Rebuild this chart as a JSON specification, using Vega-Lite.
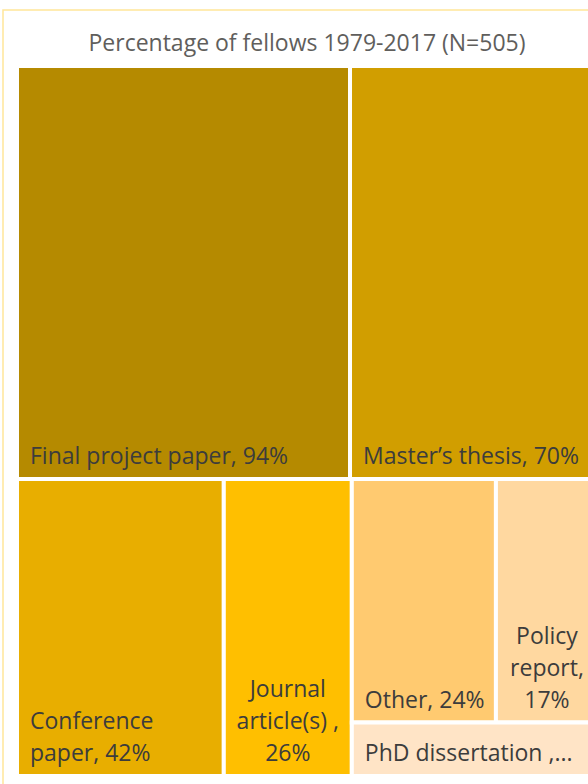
{
  "$schema": "https://vega.github.io/schema/vega-lite/v6.json",
  "autosize": "none",
  "width": 608,
  "height": 780,
  "padding": {"left": 3, "top": 10, "right": 0, "bottom": 0},
  "background": "white",
  "config": {"view": {"stroke": "#FFE699", "strokeWidth": 1.5}},
  "title": {"text": "Percentage of fellows 1979-2017 (N=505)", "anchor": "middle", "frame": "group", "offset": -64, "baseline": "alphabetic", "fontSize": 23, "font": "Open Sans", "fontWeight": "normal", "color": "#605E5C"},
  "data": {"values": [
    {"name": "Final project paper", "value": 94, "band": 1, "col": 1, "sub": 1, "k": 1, "label": "Final project paper, 94%"},
    {"name": "Master’s thesis", "value": 70, "band": 1, "col": 2, "sub": 1, "k": 1, "label": "Master’s thesis, 70%"},
    {"name": "Conference paper", "value": 42, "band": 2, "col": 1, "sub": 1, "k": 1, "label": "Conference\npaper, 42%"},
    {"name": "Journal article(s)", "value": 26, "band": 2, "col": 2, "sub": 1, "k": 1, "label": "Journal\narticle(s) ,\n26%"},
    {"name": "Other", "value": 24, "band": 2, "col": 3, "sub": 1, "k": 1, "label": "Other, 24%"},
    {"name": "Policy report", "value": 17, "band": 2, "col": 3, "sub": 1, "k": 2, "label": "Policy\nreport,\n17%"},
    {"name": "PhD dissertation", "value": 9, "band": 2, "col": 3, "sub": 2, "k": 1, "label": "PhD dissertation ,..."}
  ]},
  "transform": [
    {"joinaggregate": [{"op": "sum", "field": "value", "as": "total"}]},
    {"joinaggregate": [{"op": "sum", "field": "value", "as": "bandTot"}], "groupby": ["band"]},
    {"window": [{"op": "sum", "field": "value", "as": "bandCum"}], "sort": [{"field": "band"}], "frame": [null, 0], "ignorePeers": false},
    {"joinaggregate": [{"op": "sum", "field": "value", "as": "colTot"}], "groupby": ["band", "col"]},
    {"window": [{"op": "sum", "field": "value", "as": "colCum"}], "groupby": ["band"], "sort": [{"field": "col"}], "frame": [null, 0], "ignorePeers": false},
    {"joinaggregate": [{"op": "sum", "field": "value", "as": "subTot"}], "groupby": ["band", "col", "sub"]},
    {"window": [{"op": "sum", "field": "value", "as": "subCum"}], "groupby": ["band", "col"], "sort": [{"field": "sub"}], "frame": [null, 0], "ignorePeers": false},
    {"window": [{"op": "sum", "field": "value", "as": "itemCum"}], "groupby": ["band", "col", "sub"], "sort": [{"field": "k"}], "frame": [null, 0], "ignorePeers": false},
    {"calculate": "100*(datum.bandCum-datum.bandTot)/datum.total", "as": "by0"},
    {"calculate": "100*datum.bandCum/datum.total", "as": "by1"},
    {"calculate": "100*(datum.colCum-datum.colTot)/datum.bandTot", "as": "cx0"},
    {"calculate": "100*datum.colCum/datum.bandTot", "as": "cx1"},
    {"calculate": "datum.by0+(datum.by1-datum.by0)*(datum.subCum-datum.subTot)/datum.colTot", "as": "y0"},
    {"calculate": "datum.by0+(datum.by1-datum.by0)*datum.subCum/datum.colTot", "as": "y1"},
    {"calculate": "datum.cx0+(datum.cx1-datum.cx0)*(datum.itemCum-datum.value)/datum.subTot", "as": "x0"},
    {"calculate": "datum.cx0+(datum.cx1-datum.cx0)*datum.itemCum/datum.subTot", "as": "x1"},
    {"calculate": "(datum.x0+datum.x1)/2", "as": "xm"}
  ],
  "layer": [
    {
      "mark": {"type": "rect", "stroke": "white", "strokeWidth": 4},
      "encoding": {
        "x": {"field": "x0", "type": "quantitative", "axis": null, "scale": {"domain": [0, 100], "range": [14, 595], "nice": false, "zero": false}},
        "x2": {"field": "x1"},
        "y": {"field": "y0", "type": "quantitative", "axis": null, "scale": {"domain": [0, 100], "range": [56, 766], "nice": false, "zero": false}},
        "y2": {"field": "y1"},
        "color": {"field": "name", "type": "nominal", "legend": null, "scale": {
          "domain": ["Final project paper", "Master’s thesis", "Conference paper", "Journal article(s)", "Other", "Policy report", "PhD dissertation"],
          "range": ["#B58A00", "#D19E00", "#E8AE00", "#FFBF00", "#FFCA70", "#FFD8A0", "#FFE4C6"]}}
      }
    },
    {
      "transform": [{"filter": "indexof(['Final project paper','Master’s thesis','Other','PhD dissertation'], datum.name) >= 0"}],
      "mark": {"type": "text", "align": "left", "baseline": "bottom", "dx": 13, "dy": -10, "font": "Open Sans", "fontSize": 23, "lineHeight": 32, "lineBreak": "\n", "color": "#3C3C3C"},
      "encoding": {
        "x": {"field": "x0", "type": "quantitative"},
        "y": {"field": "y1", "type": "quantitative"},
        "text": {"field": "label"}
      }
    },
    {
      "transform": [{"filter": "datum.name == 'Conference paper'"}],
      "mark": {"type": "text", "align": "left", "baseline": "bottom", "dx": 13, "dy": -42, "font": "Open Sans", "fontSize": 23, "lineHeight": 32, "lineBreak": "\n", "color": "#3C3C3C"},
      "encoding": {
        "x": {"field": "x0", "type": "quantitative"},
        "y": {"field": "y1", "type": "quantitative"},
        "text": {"field": "label"}
      }
    },
    {
      "transform": [{"filter": "indexof(['Journal article(s)','Policy report'], datum.name) >= 0"}],
      "mark": {"type": "text", "align": "center", "baseline": "bottom", "dy": -74, "font": "Open Sans", "fontSize": 23, "lineHeight": 32, "lineBreak": "\n", "color": "#3C3C3C"},
      "encoding": {
        "x": {"field": "xm", "type": "quantitative"},
        "y": {"field": "y1", "type": "quantitative"},
        "text": {"field": "label"}
      }
    }
  ]
}
